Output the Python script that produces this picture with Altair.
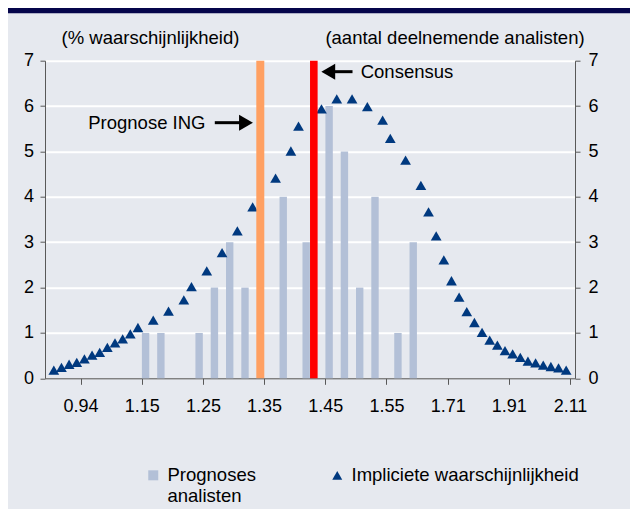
import altair as alt
import pandas as pd

# ---------------- data ----------------
N_CAT = 68  # category slots on the x axis
tick_pos = [4, 12, 20, 28, 36, 44, 52, 60, 68]
tick_labels = ["0.94", "1.15", "1.25", "1.35", "1.45", "1.55", "1.71", "1.91", "2.11"]
y_ticks = [0, 1, 2, 3, 4, 5, 6, 7]

series_names = ["Prognoses analisten", "Impliciete waarschijnlijkheid"]

# analyst forecasts (number of analysts per category)
bar_cat = [12, 14, 19, 21, 23, 25, 30, 33, 36, 38, 40, 42, 45, 47]
bar_count = [1, 1, 1, 2, 3, 2, 4, 3, 6, 5, 2, 4, 1, 3]

# implied probability (%)
prob_cat = [0, 1, 2, 3, 4, 5, 6, 7, 8, 9, 10, 11, 13, 15, 17, 18, 20, 22, 24, 26,
            29, 31, 32, 35, 37, 39, 41, 43, 44, 46, 48, 49, 50, 51, 52, 53, 54, 55,
            56, 57, 58, 59, 60, 61, 62, 63, 64, 65, 66, 67]
prob_val = [0.18, 0.24, 0.31, 0.35, 0.43, 0.51, 0.57, 0.68, 0.78, 0.87, 0.98, 1.12,
            1.28, 1.48, 1.73, 2.02, 2.37, 2.77, 3.25, 3.78,
            4.41, 5.01, 5.56, 5.94, 6.16, 6.16, 5.99, 5.69, 5.29, 4.81,
            4.25, 3.67, 3.14, 2.61, 2.15, 1.79, 1.47, 1.23, 1.01, 0.84,
            0.73, 0.61, 0.54, 0.46, 0.38, 0.34, 0.29, 0.26, 0.23, 0.18]

# reference lines
ref_name = ["Prognose ING", "Consensus"]
ref_cat = [27, 34]

# annotations (data units)
ann_text = ["Prognose ING", "Consensus"]
ann_x = [5.0, 40.63]
ann_y = [5.49, 6.61]
arrow_tail = [21.55, 39.56]
arrow_tip = [26.52, 35.50]
arrow_y = [5.634, 6.758]

# ---------------- style ----------------
FONT = "Liberation Sans"
BG = "#E6E9EF"
NAVY = "#00397F"
BAR = "#B3C0D7"
ORANGE = "#FFA062"
RED = "#FF0000"
AXIS = "#595959"
BAND = "#05054B"

bar_df = pd.DataFrame({"cat": bar_cat, "n": bar_count, "series": series_names[0]})
prob_df = pd.DataFrame({"cat": prob_cat, "p": prob_val, "series": series_names[1]})
ref_df = pd.DataFrame({"name": ref_name, "cat": ref_cat})
ann_df = pd.DataFrame({"text": ann_text, "x": ann_x, "y": ann_y})
arr_df = pd.DataFrame({"tail": arrow_tail, "tip": arrow_tip, "y": arrow_y})

x_scale = alt.Scale(domain=[0, N_CAT], nice=False, zero=False)
y_scale = alt.Scale(domain=[0, 7], nice=False, zero=True)

label_expr = "[" + ",".join(f"'{t}'" for t in tick_labels) + "][round((datum.value - 4) / 8)]"

x_axis = alt.Axis(values=tick_pos, labelExpr=label_expr, title=None, grid=False,
                  tickSize=6, labelPadding=13, labelFontSize=18, labelFont=FONT,
                  labelColor="#000000", domainColor=AXIS, tickColor=AXIS,
                  labelFlush=False, labelOverlap=False)

color_scale = alt.Scale(domain=series_names, range=[BAR, NAVY])
shape_scale = alt.Scale(domain=series_names, range=["square", "triangle-up"])
# the first series name wraps onto a second line, as in the reference legend
wrapped = "[" + ",".join(f"'{w}'" for w in series_names[0].split(" ")) + "]"
legend = alt.Legend(title=None, orient="none", legendX=99, legendY=405,
                    direction="horizontal", labelFontSize=18.5, labelFont=FONT,
                    labelColor="#000000", symbolSize=100, labelOffset=5,
                    columnPadding=72, padding=0, labelLimit=400,
                    labelBaseline="middle", symbolStrokeWidth=0,
                    labelExpr="datum.label == '" + series_names[0] + "' ? "
                    + wrapped + " : [datum.label, '']")

bars = alt.Chart(bar_df).transform_calculate(xc="datum.cat + 0.5").mark_bar(
    size=7.4, orient="vertical").encode(
    x=alt.X("xc:Q", scale=x_scale, axis=x_axis),
    y=alt.Y("n:Q", scale=y_scale, axis=alt.Axis(
        orient="right", values=y_ticks, grid=False, tickSize=5, labelPadding=8,
        labelFontSize=18, labelFont=FONT, labelColor="#000000",
        domainColor=AXIS, tickColor=AXIS,
        title="(aantal deelnemende analisten)", titleAngle=0, titleX=-120.5,
        titleY=-17.7, titleAlign="center", titleBaseline="alphabetic",
        titleFontSize=18.5, titleFont=FONT, titleFontWeight="normal",
        titleColor="#000000")),
    color=alt.Color("series:N", scale=color_scale, legend=legend),
)

tri = alt.Chart(prob_df).transform_calculate(xc="datum.cat + 0.5").mark_point(
    filled=True, size=115, opacity=1).encode(
    x=alt.X("xc:Q", scale=x_scale, axis=x_axis),
    y=alt.Y("p:Q", scale=y_scale, axis=alt.Axis(
        orient="left", values=y_ticks, grid=True,
        gridColor={"condition": {"test": "datum.value === 0", "value": "transparent"}, "value": "#FFFFFF"},
        gridWidth=2, tickSize=5, labelPadding=6.5,
        labelFontSize=18, labelFont=FONT, labelColor="#000000",
        domainColor=AXIS, tickColor=AXIS,
        title="(% waarschijnlijkheid)", titleAngle=0, titleX=105,
        titleY=-17.7, titleAlign="center", titleBaseline="alphabetic",
        titleFontSize=18.5, titleFont=FONT, titleFontWeight="normal",
        titleColor="#000000")),
    color=alt.Color("series:N", scale=color_scale, legend=legend),
    shape=alt.Shape("series:N", scale=shape_scale, legend=legend),
)

ref_base = alt.Chart(ref_df).transform_calculate(xc="datum.cat + 0.5")
ing = ref_base.transform_filter(f"datum.name == '{ref_name[0]}'").mark_rule(
    color=ORANGE, strokeWidth=8).encode(x=alt.X("xc:Q", scale=x_scale, axis=x_axis))
cons = ref_base.transform_filter(f"datum.name == '{ref_name[1]}'").mark_rule(
    color=RED, strokeWidth=7.6).encode(x=alt.X("xc:Q", scale=x_scale, axis=x_axis))

arr_base = alt.Chart(arr_df).transform_calculate(
    dir="datum.tip > datum.tail ? 1 : -1",
    shaft_end="datum.tip - datum.dir * 1.2",
    head_c="datum.tip - datum.dir * 0.89",
    head_shape="datum.tip > datum.tail ? 'triangle-right' : 'triangle-left'",
)
shafts = arr_base.mark_rule(color="#000000", strokeWidth=3).encode(
    x=alt.X("tail:Q", scale=x_scale, axis=x_axis),
    x2="shaft_end:Q",
    y=alt.Y("y:Q", scale=y_scale, axis=None),
)
heads = arr_base.mark_point(filled=True, size=256, opacity=1, color="#000000").encode(
    x=alt.X("head_c:Q", scale=x_scale, axis=x_axis),
    y=alt.Y("y:Q", scale=y_scale, axis=None),
    shape=alt.Shape("head_shape:N", scale=None, legend=None),
)

texts = alt.Chart(ann_df).mark_text(align="left", baseline="alphabetic", font=FONT,
                                    fontSize=18.5, color="#000000").encode(
    x=alt.X("x:Q", scale=x_scale, axis=x_axis),
    y=alt.Y("y:Q", scale=y_scale, axis=None),
    text="text:N",
)

band = alt.Chart(pd.DataFrame({"k": [0]})).mark_rect(color=BAND).encode(
    x=alt.value(-37), x2=alt.value(585), y=alt.value(-52.7), y2=alt.value(-47.5))

chart = alt.layer(bars, tri, ing, cons, shafts, heads, texts, band).resolve_scale(
    y="independent"
).properties(
    width=530, height=317.6,
    padding={"left": 37, "top": 52.7, "right": 55, "bottom": 130.7},
    autosize=alt.AutoSizeParams(type="none"),
    background=BG,
).configure_view(stroke=None).configure(font=FONT)

chart.save("out.html", embed_options={"renderer": "svg", "actions": False})
